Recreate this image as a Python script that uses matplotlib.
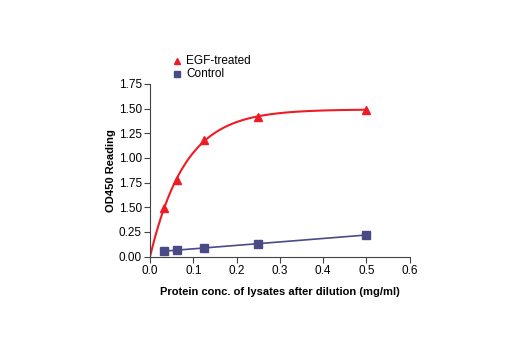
import numpy as np
import matplotlib
matplotlib.use("Agg")
import matplotlib.pyplot as plt
from matplotlib import font_manager

names = {f.name for f in font_manager.fontManager.ttflist}
fam = ["Liberation Sans Narrow", "DejaVu Sans"] if "Liberation Sans Narrow" in names else ["Liberation Sans", "DejaVu Sans"]
plt.rcParams['font.family'] = fam

conc = [0.03125, 0.0625, 0.125, 0.25, 0.5]
egf = [0.49, 0.78, 1.18, 1.42, 1.49]
control = [0.057, 0.064, 0.09, 0.13, 0.22]
xticks = [0.0, 0.1, 0.2, 0.3, 0.4, 0.5, 0.6]
xticklabels = ["0.0", "0.1", "0.2", "0.3", "0.4", "0.5", "0.6"]
yticks = [0.0, 0.25, 0.5, 0.75, 1.0, 1.25, 1.5, 1.75]
yticklabels = ["0.00", "0.25", "1.50", "1.75", "1.00", "1.25", "1.50", "1.75"]

red = "#EE1C24"
navy = "#4A4A86"

fig = plt.figure(figsize=(5.2, 3.5), dpi=100)
ax = fig.add_axes([0.2885, 0.2667, 0.4995, 0.4933])

# saturation fit y = A(1-exp(-k x)) through origin
cx = np.array(conc); cy = np.array(egf)
best = None
for k in np.linspace(1, 40, 3901):
    g = 1 - np.exp(-k * cx)
    A = (g @ cy) / (g @ g)
    err = np.sum((A * g - cy) ** 2)
    if best is None or err < best[0]:
        best = (err, A, k)
_, A, k = best
xf = np.linspace(0, max(conc), 300)
ax.plot(xf, A * (1 - np.exp(-k * xf)), color=red, lw=1.5, zorder=2)
ax.plot(conc, egf, linestyle="none", marker="^", color=red, ms=6, zorder=3)

p = np.polyfit(conc, control, 1)
xl = np.array([min(conc), max(conc)])
ax.plot(xl, np.polyval(p, xl), color=navy, lw=1.2, zorder=2)
ax.plot(conc, control, linestyle="none", marker="s", color=navy, ms=6, zorder=3)

ax.set_xlim(0, 0.6)
ax.set_ylim(0, 1.75)
ax.set_xticks(xticks)
ax.set_xticklabels(xticklabels)
ax.set_yticks(yticks)
ax.set_yticklabels(yticklabels)
for s in ["top", "right"]:
    ax.spines[s].set_visible(False)
for s in ["left", "bottom"]:
    ax.spines[s].set_color("#444444")
    ax.spines[s].set_linewidth(0.8)
ax.tick_params(direction="out", length=4, width=0.8, color="#444444", labelsize=8.5, pad=2)
ax.set_xlabel("Protein conc. of lysates after dilution (mg/ml)", fontsize=8, fontweight="bold", labelpad=7)
ax.set_ylabel("OD450 Reading", fontsize=8, fontweight="bold", labelpad=2)

# legend
fig.text(186/520, 1 - 61/350, "EGF-treated", fontsize=8.5, va="center")
fig.text(186/520, 1 - 74/350, "Control", fontsize=8.5, va="center")
fig.lines.append(plt.Line2D([177/520], [1 - 61/350], marker="^", color=red, ms=5, transform=fig.transFigure))
fig.lines.append(plt.Line2D([177/520], [1 - 74/350], marker="s", color=navy, ms=4.5, transform=fig.transFigure))

fig.savefig("out.png", dpi=100)
